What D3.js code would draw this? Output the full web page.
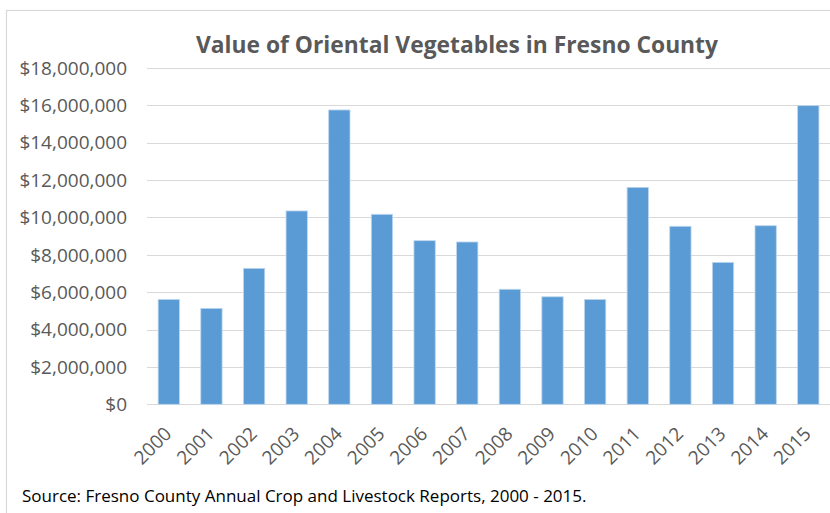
<!DOCTYPE html>
<html>
<head>
<meta charset="utf-8">
<script src="https://cdn.jsdelivr.net/npm/d3@7"></script>
<style>
  html, body { margin: 0; padding: 0; background: #fff; }
  svg { display: block; }
</style>
</head>
<body>
<svg id="chart" width="830" height="513"></svg>
<script>
const years = ["2000","2001","2002","2003","2004","2005","2006","2007","2008","2009","2010","2011","2012","2013","2014","2015"];
const values = [5610000, 5130000, 7270000, 10340000, 15740000, 10160000, 8750000, 8680000, 6150000, 5750000, 5610000, 11600000, 9520000, 7590000, 9550000, 15970000];
const yTicks = [0, 2000000, 4000000, 6000000, 8000000, 10000000, 12000000, 14000000, 16000000, 18000000];
const titleText = "Value of Oriental Vegetables in Fresno County";
const sourceText = "Source: Fresno County Annual Crop and Livestock Reports, 2000 - 2015.";

const svg = d3.select("#chart");
const FONT = "'Open Sans', 'Noto Sans', sans-serif";
const GRAY = "#595959";

// chart frame
svg.append("rect")
  .attr("x", 6.5).attr("y", 10.5)
  .attr("width", 1000).attr("height", 1000)
  .attr("fill", "#fff")
  .attr("stroke", "#d9d9d9").attr("stroke-width", 1.2);

function fitText(sel, target) {
  const n = sel.node();
  const w = n.getComputedTextLength();
  if (Math.abs(w - target) / target > 0.01) {
    sel.attr("textLength", target).attr("lengthAdjust", "spacingAndGlyphs");
  }
}

const x = d3.scaleBand()
  .domain(years)
  .range([147.5, 829.6])
  .paddingInner(0.5)
  .paddingOuter(0.25);

const y = d3.scaleLinear()
  .domain([0, 18000000])
  .range([404.3, 67.7]);

// gridlines
svg.append("g")
  .selectAll("line")
  .data(yTicks)
  .join("line")
  .attr("x1", 147).attr("x2", 830)
  .attr("y1", d => Math.round(y(d)) + 0.5)
  .attr("y2", d => Math.round(y(d)) + 0.5)
  .attr("stroke", "#d9d9d9")
  .attr("stroke-width", 1);

// y axis labels
const fmt = d3.format("$,");
svg.append("g")
  .selectAll("text")
  .data(yTicks)
  .join("text")
  .attr("x", 127)
  .attr("y", d => y(d))
  .attr("dy", "0.36em")
  .attr("text-anchor", "end")
  .attr("font-family", FONT)
  .attr("font-size", 19)
  .attr("fill", GRAY)
  .text(d => fmt(d));

// bars
svg.append("g")
  .selectAll("rect")
  .data(years.map((yr, i) => ({ yr, v: values[i] })))
  .join("rect")
  .attr("x", d => x(d.yr))
  .attr("y", d => y(d.v))
  .attr("width", x.bandwidth())
  .attr("height", d => y(0) - y(d.v))
  .attr("fill", "#5b9bd5")
  .attr("stroke", "#bdd7ee")
  .attr("stroke-width", 0.8);

// x axis labels
svg.append("g")
  .selectAll("text")
  .data(years)
  .join("text")
  .attr("transform", d => `translate(${x(d) + x.bandwidth() / 2 + 4},${435}) rotate(-45)`)
  .attr("text-anchor", "end")
  .attr("font-family", FONT)
  .attr("font-size", 19)
  .attr("fill", GRAY)
  .text(d => d);

// title
const title = svg.append("text")
  .attr("x", 196)
  .attr("y", 53)
  .attr("font-family", FONT)
  .attr("font-weight", "bold")
  .attr("font-size", 24)
  .attr("fill", GRAY)
  .text(titleText);
fitText(title, 522);

// source note
const src = svg.append("text")
  .attr("x", 22)
  .attr("y", 502)
  .attr("font-family", FONT)
  .attr("font-size", 17)
  .attr("fill", "#000")
  .text(sourceText);
fitText(src, 561);
</script>
</body>
</html>
